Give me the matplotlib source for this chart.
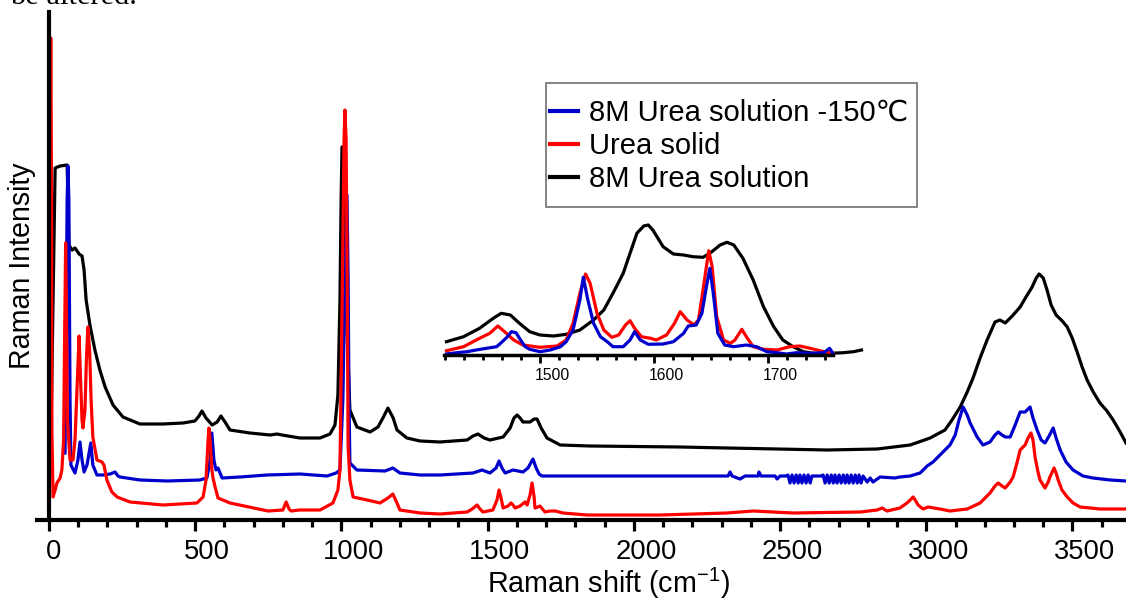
import matplotlib
matplotlib.use("Agg")
import matplotlib.pyplot as plt
from matplotlib.ticker import MultipleLocator
from matplotlib.transforms import ScaledTranslation
from matplotlib.lines import Line2D
from matplotlib.patches import Rectangle

plt.rcParams['font.family'] = ['Liberation Sans', 'DejaVu Sans']
plt.rcParams['mathtext.fontset'] = 'custom'
plt.rcParams['mathtext.rm'] = 'Liberation Sans'
plt.rcParams['mathtext.it'] = 'Liberation Sans:italic'

# ---------------- spectra (Raman shift in cm-1, intensity in arb. units) ----------------
solution_x = [7, 14, 21, 38, 62, 65, 68, 79, 89, 103, 113, 120, 127, 140, 157, 174, 192, 219,
              253, 311, 390, 458, 499, 513, 523, 537, 558, 575, 588, 602, 619, 687, 756, 780,
              797, 858, 927, 961, 978, 988, 995, 999, 1002, 1009, 1012, 1019, 1029, 1053, 1098,
              1125, 1142, 1159, 1177, 1190, 1224, 1269, 1337, 1430, 1450, 1467, 1488, 1508,
              1553, 1577, 1590, 1601, 1611, 1621, 1645, 1659, 1669, 1683, 1703, 1748, 1850,
              2158, 2319, 2661, 2832, 2945, 3013, 3064, 3088, 3116, 3140, 3160, 3184, 3208,
              3235, 3252, 3270, 3294, 3321, 3341, 3362, 3376, 3386, 3400, 3413, 3427, 3444,
              3465, 3482, 3499, 3516, 3533, 3550, 3571, 3594, 3618, 3639, 3663, 3683]
solution_y = [87, 220, 352, 354, 355, 320, 275, 270, 272, 266, 264, 250, 220, 195, 170, 150,
              133, 115, 103, 96, 96, 97, 99, 104, 109, 102, 95, 98, 104, 98, 90, 87, 85, 86,
              85, 82, 82, 86, 95, 125, 220, 320, 373, 370, 320, 190, 110, 93, 88, 93, 102, 112,
              102, 90, 82, 79, 78, 80, 84, 86, 82, 80, 83, 92, 102, 105, 102, 98, 98, 101, 101,
              92, 82, 75, 74, 73, 72, 70, 71, 75, 82, 90, 100, 113, 128, 142, 162, 180, 198,
              200, 197, 204, 213, 223, 233, 242, 246, 242, 230, 215, 205, 199, 193, 182, 168,
              153, 140, 128, 117, 109, 100, 88, 77]

frozen_x = [55, 58, 62, 65, 68, 72, 75, 89, 99, 106, 113, 120, 130, 143, 150, 164, 185,
            209, 226, 236, 243, 311, 404, 516, 540, 551, 557, 564, 571, 578, 592, 653, 746, 858,
            951, 982, 995, 1005, 1012, 1019, 1023, 1026, 1029, 1053, 1149, 1176, 1200, 1269,
            1337, 1450, 1481, 1508, 1529, 1539, 1549, 1560, 1587, 1621, 1638, 1655, 1666, 1676,
            1686, 2158, 2322, 2329, 2336, 2363, 2380, 2425, 2428, 2435, 2483, 2490, 2500, 2521,
            2527, 2534, 2541, 2548, 2555, 2562, 2568, 2575, 2582, 2589, 2596, 2603, 2609, 2644,
            2647, 2654, 2661, 2668, 2675, 2682, 2688, 2695, 2702, 2709, 2716, 2723, 2729, 2736,
            2743, 2750, 2757, 2764, 2770, 2777, 2784, 2798, 2808, 2818, 2842, 2893, 2910, 2945,
            2979, 3003, 3023, 3057, 3081, 3099, 3112, 3126, 3140, 3150, 3174, 3194, 3218, 3235,
            3246, 3259, 3270, 3287, 3304, 3321, 3338, 3355, 3365, 3379, 3393, 3406, 3420, 3434,
            3444, 3458, 3478, 3502, 3536, 3570, 3629, 3683]
frozen_y = [67, 170, 320, 354, 320, 120, 55, 47, 60, 78, 60, 48, 55, 77, 55, 45, 45, 46,
            48, 44, 43, 40, 39, 40, 42, 60, 87, 60, 50, 52, 42, 43, 45, 46, 44, 47, 50, 120, 240,
            325, 240, 120, 57, 50, 49, 52, 47, 45, 45, 47, 50, 47, 52, 59, 52, 47, 50, 48, 52,
            61, 52, 46, 44, 44, 44, 48, 44, 41, 44, 44, 48, 44, 44, 41, 44, 44, 45, 37, 45, 37,
            45, 37, 45, 37, 45, 37, 45, 37, 44, 44, 45, 37, 45, 37, 45, 37, 45, 37, 45, 37, 45,
            37, 45, 37, 45, 37, 45, 37, 45, 37, 44, 38, 42, 38, 43, 42, 43, 44, 47, 54, 58, 68,
            75, 85, 100, 113, 105, 97, 83, 75, 78, 85, 88, 85, 83, 83, 95, 108, 108, 113, 102,
            90, 80, 77, 84, 92, 82, 70, 58, 50, 44, 42, 40, 39]

solid_x = [2, 3, 6, 9, 10, 14, 21, 27, 38, 44, 50, 53, 57, 60, 63, 72, 82, 89, 96, 103, 108, 113,
           116, 123, 128, 133, 139, 144, 150, 164, 181, 188, 198, 215, 233, 277, 390, 506, 527,
           537, 544, 547, 551, 557, 561, 568, 578, 619, 749, 800, 811, 821, 828, 858, 927, 971,
           988, 995, 1002, 1009, 1012, 1016, 1019, 1023, 1029, 1040, 1088, 1132, 1159, 1176,
           1190, 1200, 1269, 1337, 1430, 1447, 1464, 1474, 1484, 1518, 1532, 1539, 1546, 1553,
           1570, 1580, 1587, 1594, 1611, 1628, 1635, 1645, 1652, 1659, 1662, 1672, 1679, 1696,
           1713, 1731, 1758, 1840, 2090, 2319, 2408, 2544, 2774, 2832, 2849, 2866, 2910, 2934,
           2945, 2955, 2962, 2972, 2989, 3006, 3047, 3081, 3140, 3184, 3218, 3235, 3246, 3259,
           3270, 3287, 3297, 3311, 3321, 3338, 3348, 3358, 3365, 3372, 3382, 3389, 3406, 3417,
           3423, 3437, 3444, 3451, 3464, 3482, 3502, 3526, 3594, 3683]
solid_y = [87, 320, 482, 320, 87, 23, 30, 37, 42, 50, 80, 170, 277, 200, 100, 60, 60, 80, 133,
           184, 140, 100, 92, 110, 160, 193, 170, 120, 83, 60, 58, 55, 40, 28, 23, 18, 15, 17,
           23, 40, 80, 92, 80, 50, 42, 33, 22, 17, 9, 10, 18, 11, 9, 10, 10, 17, 30, 50, 207,
           380, 410, 380, 270, 73, 40, 23, 20, 17, 22, 26, 17, 10, 7, 6, 8, 11, 15, 11, 8, 10,
           20, 30, 22, 12, 14, 17, 15, 12, 14, 18, 15, 25, 37, 23, 12, 13, 14, 8, 9, 9, 7, 5, 5,
           7, 9, 7, 8, 10, 12, 9, 12, 17, 20, 23, 20, 15, 11, 13, 11, 9, 11, 17, 27, 34, 37, 34,
           32, 38, 43, 58, 70, 75, 82, 87, 80, 63, 48, 40, 32, 38, 43, 52, 47, 40, 30, 23, 17,
           13, 11, 11]

# ---------------- enlarged 1420-1780 cm-1 region ----------------
zoom_solution_x = [1418, 1433, 1447, 1459, 1466, 1474, 1482, 1491, 1500, 1512, 1523, 1535, 1547,
                   1556, 1564, 1573, 1579, 1585, 1591, 1595, 1599, 1608, 1617, 1626, 1634, 1643,
                   1649, 1658, 1664, 1670, 1678, 1687, 1696, 1705, 1713, 1722, 1731, 1740, 1754,
                   1766, 1775, 1782]
zoom_solution_y = [13.3, 18.3, 26.7, 36.7, 41.7, 40, 31.7, 23.3, 20, 19, 20.7, 25, 35, 45, 61.7,
                   81.7, 101.7, 121.7, 129, 130, 125, 108.3, 101, 100, 98.3, 97.7, 101.7, 110,
                   112.7, 110, 96.7, 75, 48.3, 28.3, 15, 8.3, 3.3, 1.7, 1.7, 2.3, 3.3, 5]

zoom_solid_x = [1418, 1433, 1447, 1456, 1463, 1469, 1477, 1485, 1500, 1515, 1523, 1529, 1535, 1540,
                1544, 1550, 1556, 1563, 1569, 1575, 1579, 1583, 1589, 1597, 1602, 1611, 1618, 1623,
                1629, 1635, 1639, 1643, 1648, 1651, 1655, 1661, 1667, 1671, 1677, 1681, 1687, 1696,
                1708, 1719, 1728, 1737, 1749, 1757]
zoom_solid_y = [4.3, 8.3, 16.7, 21.7, 29, 23.3, 15, 10, 7.7, 9, 15, 31.7, 61.7, 81, 71.7, 41.7, 25,
                17.7, 20, 30, 34.3, 26.7, 18.3, 16.7, 15, 20, 31.7, 43.3, 35, 30, 35, 65, 104.3,
                88.3, 38.3, 15, 11.7, 15, 25.7, 18.3, 8.3, 5.7, 5, 8.3, 9, 6.7, 3.3, 1.7]

zoom_frozen_x = [1418, 1427, 1436, 1444, 1453, 1462, 1466, 1471, 1475, 1479, 1483, 1487, 1491,
                 1500, 1509, 1518, 1523, 1529, 1535, 1538, 1542, 1547, 1553, 1559, 1564, 1573,
                 1579, 1583, 1588, 1595, 1608, 1617, 1626, 1630, 1637, 1642, 1646, 1649, 1652,
                 1656, 1662, 1670, 1681, 1690, 1699, 1708, 1716, 1725, 1737, 1749, 1754, 1756, 1757]
zoom_frozen_y = [1, 2.3, 3.3, 5, 6.7, 8.3, 12.3, 17.7, 23.3, 22.3, 15, 8.3, 5.7, 3.3, 5, 8.3, 13.3,
                 25, 55, 77.7, 55, 31.7, 18.3, 13.3, 8.3, 8.3, 15, 23.3, 15, 10.7, 11, 13.3, 21.7,
                 29, 30, 41.7, 68.3, 86.7, 61.7, 21.7, 10, 8.3, 10, 8.3, 3.3, 2.3, 1, 2.3, 1.7,
                 2.3, 6.7, 3.3, 1]

main_ticks = [0, 500, 1000, 1500, 2000, 2500, 3000, 3500]
zoom_ticks = [1500, 1600, 1700]
series_labels = ['8M Urea solution -150\u2103', 'Urea solid', '8M Urea solution']
series_colors = ['#0000cc', '#ff0000', '#000000']

# ---------------- figure ----------------
W, H = 1126, 601
fig = plt.figure(figsize=(W / 100, H / 100), dpi=100)


def fx(px):
    return px / W


def fy(py):
    return 1 - py / H


def shift_px(dx):
    return ScaledTranslation(dx / 100, 0, fig.dpi_scale_trans)


ax = fig.add_axes([fx(36.7), fy(520), fx(1126) - fx(36.7), fy(12) - fy(520)])
lw = 2.3
ax.plot(solution_x, solution_y, color=series_colors[2], lw=lw, solid_joinstyle='round')
ax.plot(frozen_x, frozen_y, color=series_colors[0], lw=lw, solid_joinstyle='round')
ax.plot(solid_x, solid_y, color=series_colors[1], lw=lw, solid_joinstyle='round')
ax.set_xlim(-42, 3683)
ax.set_ylim(0, 508)
for s in ['top', 'right']:
    ax.spines[s].set_visible(False)
ax.spines['left'].set_position(('data', 0))
ax.spines['left'].set_linewidth(3)
ax.spines['bottom'].set_linewidth(3)
ax.set_yticks([])
ax.set_xticks(main_ticks, labels=[str(t) for t in main_ticks])
ax.xaxis.set_minor_locator(MultipleLocator(100))
ax.tick_params(axis='x', which='major', direction='out', length=8, width=2.3,
               labelsize=19.7, pad=6)
ax.tick_params(axis='x', which='minor', direction='out', length=5, width=2.3)
for tick, t in zip(ax.xaxis.get_major_ticks(), main_ticks):
    tick.label1.set_transform(tick.label1.get_transform() + shift_px(5 if t == 0 else 12))

fig.text(fx(22), fy(266), 'Raman Intensity', rotation=90, ha='center', va='center',
         fontsize=20.6)
fig.text(fx(609), fy(593), 'Raman shift (cm$^{-1}$)', ha='center', va='baseline',
         fontsize=20.7)
fig.text(fx(10), fy(4), 'be altered.', family='Liberation Serif', fontsize=22,
         ha='left', va='baseline')

# enlarged view
axi = fig.add_axes([fx(444.2), fy(355), fx(833) - fx(444.2), fy(200) - fy(355)])
axi.patch.set_alpha(0)
axi.plot(zoom_solution_x, zoom_solution_y, color=series_colors[2], lw=2.3, clip_on=False,
         solid_joinstyle='round')
axi.plot(zoom_solid_x, zoom_solid_y, color=series_colors[1], lw=2.3, clip_on=False,
         solid_joinstyle='round')
axi.plot(zoom_frozen_x, zoom_frozen_y, color=series_colors[0], lw=2.3, clip_on=False,
         solid_joinstyle='round')
axi.set_xlim(1416, 1757)
axi.set_ylim(0, 155)
for s in ['top', 'right', 'left']:
    axi.spines[s].set_visible(False)
axi.spines['bottom'].set_linewidth(2.5)
axi.set_yticks([])
axi.set_xticks(zoom_ticks, labels=[str(t) for t in zoom_ticks])
axi.xaxis.set_minor_locator(MultipleLocator(100 / 6))
axi.tick_params(axis='x', which='major', direction='out', length=6, width=2,
                labelsize=11.3, pad=3)
axi.tick_params(axis='x', which='minor', direction='out', length=3.5, width=2)
for tick in axi.xaxis.get_major_ticks():
    tick.label1.set_transform(tick.label1.get_transform() + shift_px(12))

# legend
fig.patches.append(Rectangle((fx(546), fy(207)), fx(917) - fx(546), fy(83) - fy(207),
                             transform=fig.transFigure, fill=False, edgecolor='#707070',
                             lw=1.2))
handles = [Line2D([], [], color=c, lw=3) for c in series_colors]
fig.legend(handles, series_labels, loc='upper left',
           bbox_to_anchor=(fx(550), fy(99)), bbox_transform=fig.transFigure,
           frameon=False, fontsize=21, borderpad=0, borderaxespad=0,
           handlelength=0.95, handletextpad=0.4, labelspacing=0.17)

fig.savefig('out.png', dpi=100)
